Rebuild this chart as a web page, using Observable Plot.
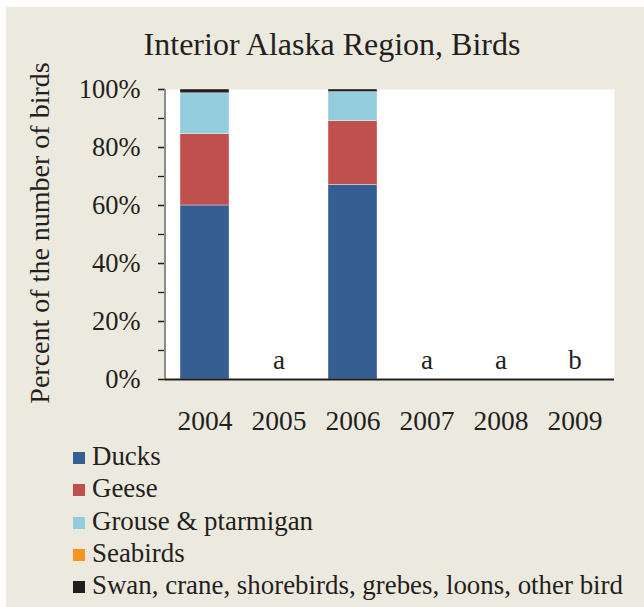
<!DOCTYPE html>
<html><head><meta charset="utf-8">
<script src="https://cdn.jsdelivr.net/npm/d3@7"></script>
<script src="https://cdn.jsdelivr.net/npm/@observablehq/plot@0.6"></script>
<style>
html,body{margin:0;padding:0;background:#fff;}
body{width:644px;height:607px;position:relative;overflow:hidden;font-family:"Liberation Serif","Times New Roman",serif;color:#231F20;}
#bg{position:absolute;left:6px;top:7px;right:0;bottom:0;background:#ECE9DF;}
#title{position:absolute;left:332px;top:28px;transform:translateX(-50%);font-size:32px;line-height:1;white-space:nowrap;}
#ylabel{position:absolute;left:40px;top:233px;transform:translate(-50%,-50%) rotate(-90deg);font-size:28px;line-height:1;white-space:nowrap;}
#chart{position:absolute;left:0;top:0;}
.lg{position:absolute;left:73px;font-size:26.9px;line-height:1;white-space:nowrap;}
.lg span.sw{position:absolute;left:0;width:12px;height:12px;top:9px;}
.lg span.tx{position:absolute;left:19px;top:0;}
</style></head><body>
<div id="bg"></div>
<div id="title">Interior Alaska Region, Birds</div>
<div id="ylabel">Percent of the number of birds</div>
<div id="chart"></div>
<div id="legend"></div>
<script>
const years = ["2004", "2005", "2006", "2007", "2008", "2009"];
const groups = ["Ducks", "Geese", "Grouse & ptarmigan", "Seabirds", "Swan, crane, shorebirds, grebes, loons, other bird"];
const colors = ["#355E92", "#C0504D", "#93CDDD", "#F7941E", "#231F20"];
const ducks    = [60.0, 0, 67.1, 0, 0, 0];
const geese    = [24.6, 0, 22.0, 0, 0, 0];
const grouse   = [14.1, 0, 10.0, 0, 0, 0];
const seabirds = [0, 0, 0, 0, 0, 0];
const other    = [1.3, 0, 0.9, 0, 0, 0];
const notes = ["", "a", "", "a", "a", "b"];
const yMinorTicks = [0, 10, 20, 30, 40, 50, 60, 70, 80, 90, 100];
const yLabelTicks = [0, 20, 40, 60, 80, 100];
const noteLevel = 6.6;

const series = [ducks, geese, grouse, seabirds, other];
const rows = [];
years.forEach((yr, i) => series.forEach((s, g) => { if (s[i] > 0) rows.push({year: yr, group: groups[g], value: s[i]}); }));
const noteRows = years.map((yr, i) => ({year: yr, note: notes[i]})).filter(d => d.note);

const leftLine = (index, scales, values, dims) => {
  const ns = "http://www.w3.org/2000/svg";
  const ln = document.createElementNS(ns, "line");
  ln.setAttribute("x1", dims.marginLeft); ln.setAttribute("x2", dims.marginLeft);
  ln.setAttribute("y1", scales.y(0)); ln.setAttribute("y2", scales.y(100));
  ln.setAttribute("stroke", "#8C8C8C"); ln.setAttribute("stroke-width", 2);
  return ln;
};

const chart = Plot.plot({
  width: 644, height: 440,
  marginLeft: 165, marginRight: 30, marginTop: 89, marginBottom: 61,
  style: {background: "transparent", fontFamily: "Liberation Serif, Times New Roman, serif", fontSize: "26.5px", color: "#231F20", overflow: "visible"},
  x: {domain: years, paddingInner: 1/3, paddingOuter: 1/6, label: null},
  y: {domain: [0, 100], label: null},
  color: {domain: groups, range: colors},
  marks: [
    Plot.frame({fill: "white", stroke: "none"}),
    Plot.barY(rows, {x: "year", y: "value", fill: "group", order: groups, stroke: "white", strokeWidth: 0.7, strokeOpacity: 0.5}),
    Plot.text(noteRows, {x: "year", y: noteLevel, text: "note", fontSize: 27, fill: "#231F20"}),
    Plot.axisY(yMinorTicks, {tickSize: 7, tickFormat: () => "", stroke: "#231F20", strokeWidth: 1.3, label: null}),
    Plot.axisY(yLabelTicks, {tickSize: 7, tickPadding: 18, tickFormat: d => d + "%", stroke: "#231F20", strokeWidth: 1.3, fill: "#231F20", label: null}),
    leftLine,
    Plot.axisX({tickSize: 0, tickPadding: 31, fontSize: 27.5, fill: "#231F20", label: null}),
    Plot.ruleY([0], {stroke: "#231F20", strokeWidth: 2})
  ]
});
document.getElementById("chart").appendChild(chart);

const legend = document.getElementById("legend");
const legendTop = 443, legendStep = 32.3;
groups.forEach((g, i) => {
  const row = document.createElement("div");
  row.className = "lg";
  row.style.top = (legendTop + i * legendStep) + "px";
  const sw = document.createElement("span"); sw.className = "sw"; sw.style.background = colors[i];
  const tx = document.createElement("span"); tx.className = "tx"; tx.textContent = g;
  row.appendChild(sw); row.appendChild(tx);
  legend.appendChild(row);
});
</script>
</body></html>
